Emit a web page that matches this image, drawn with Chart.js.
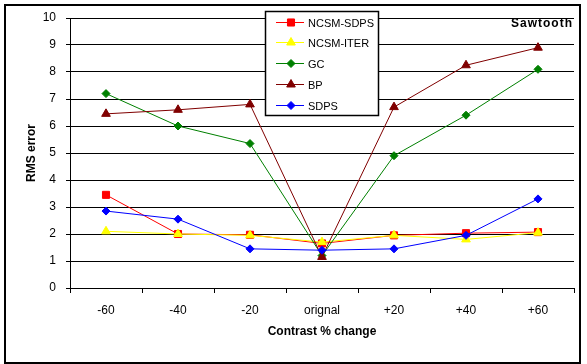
<!DOCTYPE html>
<html>
<head>
<meta charset="utf-8">
<title>Sawtooth RMS error</title>
<script src="https://cdn.jsdelivr.net/npm/chart.js@4.4.0/dist/chart.umd.min.js"></script>
<style>
    html, body { margin: 0; padding: 0; background: #fff; }
    #wrap { width: 587px; height: 364px; }
</style>
</head>
<body>
<div id="wrap"><canvas id="chart" width="587" height="364"></canvas></div>
<script>
// Values
const categories = ['-60', '-40', '-20', 'orignal', '+20', '+40', '+60'];
const ncsmSdps = [3.45, 2.0, 1.97, 1.65, 1.95, 2.03, 2.07];
const ncsmIter = [2.1, 2.0, 1.95, 1.7, 1.95, 1.8, 2.05];
const gc = [7.2, 6.0, 5.35, 1.2, 4.9, 6.4, 8.1];
const bp = [6.45, 6.6, 6.8, 1.15, 6.7, 8.25, 8.9];
const sdps = [2.85, 2.55, 1.45, 1.4, 1.45, 1.95, 3.3];
const yTicks = [0, 1, 2, 3, 4, 5, 6, 7, 8, 9, 10];

const FONT = "'Liberation Sans', Arial, sans-serif";

const seriesDefs = [
    { label: 'NCSM-SDPS', data: ncsmSdps, color: '#ff0000', style: 'rect', radius: 5 },
    { label: 'NCSM-ITER', data: ncsmIter, color: '#ffff00', style: 'triangle', radius: 5 },
    { label: 'GC', data: gc, color: '#008000', style: 'rectRot', radius: 4 },
    { label: 'BP', data: bp, color: '#800000', style: 'triangle', radius: 5 },
    { label: 'SDPS', data: sdps, color: '#0000ff', style: 'rectRot', radius: 4 }
];

const datasets = seriesDefs.map((s, i) => ({
    label: s.label,
    data: s.data,
    borderColor: s.color,
    backgroundColor: s.color,
    borderWidth: 1,
    pointStyle: s.style,
    pointRadius: s.radius,
    pointBorderWidth: 1,
    pointBackgroundColor: s.color,
    pointBorderColor: s.color,
    tension: 0,
    order: seriesDefs.length - 1 - i // later series on top, like the original
}));

// White background + outer frame
const framePlugin = {
    id: 'frame',
    beforeDraw(chart) {
        const ctx = chart.ctx;
        ctx.save();
        ctx.fillStyle = '#fff';
        ctx.fillRect(0, 0, chart.width, chart.height);
        ctx.restore();
    },
    afterDraw(chart) {
        const ctx = chart.ctx;
        ctx.save();
        ctx.strokeStyle = '#000';
        ctx.lineWidth = 2;
        ctx.strokeRect(5, 5, 575, 358);
        ctx.restore();
    }
};

// Boxed legend inside the plot, plus the "Sawtooth" caption
const boxLegendPlugin = {
    id: 'boxLegend',
    afterDatasetsDraw(chart) {
        const ctx = chart.ctx;
        ctx.save();
        ctx.fillStyle = '#fff';
        ctx.fillRect(265, 11, 114, 104);
        ctx.strokeStyle = '#000';
        ctx.lineWidth = 1.5;
        ctx.strokeRect(265.5, 11.5, 113, 104);

        ctx.font = '11px ' + FONT;
        ctx.textBaseline = 'middle';
        ctx.textAlign = 'left';
        seriesDefs.forEach((s, i) => {
            const y = Math.round(21.5 + i * 20.9) + 0.5;
            ctx.strokeStyle = s.color;
            ctx.lineWidth = 1;
            ctx.beginPath();
            ctx.moveTo(276, y);
            ctx.lineTo(304, y);
            ctx.stroke();
            const opts = { pointStyle: s.style, radius: s.radius, borderWidth: 1, rotation: 0 };
            ctx.fillStyle = s.color;
            ctx.strokeStyle = s.color;
            if (Chart.helpers && Chart.helpers.drawPoint) {
                Chart.helpers.drawPoint(ctx, opts, 291, y);
            } else {
                ctx.fillRect(287, y - 3.5, 7, 7);
            }
            ctx.fillStyle = '#000';
            ctx.fillText(s.label, 308, y + 1);
        });

        ctx.font = 'bold 12px ' + FONT;
        ctx.textAlign = 'right';
        ctx.textBaseline = 'alphabetic';
        ctx.fillStyle = '#000';
        if ('letterSpacing' in ctx) ctx.letterSpacing = '1px';
        ctx.fillText('Sawtooth', 573, 27);
        ctx.restore();
    }
};

new Chart(document.getElementById('chart'), {
    type: 'line',
    data: { labels: categories, datasets: datasets },
    options: {
        responsive: false,
        animation: false,
        devicePixelRatio: 1,
        layout: { padding: { top: 18, right: 13, bottom: 0, left: 0 } },
        plugins: {
            legend: { display: false },
            tooltip: { enabled: false }
        },
        scales: {
            x: {
                type: 'category',
                offset: true,
                afterFit: (scale) => { scale.height = 76; },
                grid: {
                    offset: true,
                    drawOnChartArea: false,
                    drawTicks: true,
                    tickLength: 5,
                    color: '#000',
                    lineWidth: 1
                },
                border: { display: true, color: '#000', width: 1 },
                ticks: {
                    color: '#000',
                    font: { family: FONT, size: 12 },
                    padding: 10,
                    maxRotation: 0,
                    autoSkip: false
                },
                title: {
                    display: true,
                    text: 'Contrast % change',
                    color: '#000',
                    font: { family: FONT, size: 12, weight: 'bold' },
                    padding: { top: 0, bottom: 25 }
                }
            },
            y: {
                min: 0,
                max: 10,
                afterFit: (scale) => { scale.width = 70; },
                afterBuildTicks: (scale) => { scale.ticks = yTicks.map(v => ({ value: v })); },
                grid: {
                    color: '#000',
                    lineWidth: 1,
                    drawTicks: true,
                    tickLength: 4
                },
                border: { display: true, color: '#000', width: 1 },
                ticks: {
                    color: '#000',
                    font: { family: FONT, size: 12 },
                    padding: 10
                },
                title: {
                    display: true,
                    text: 'RMS error',
                    color: '#000',
                    font: { family: FONT, size: 12, weight: 'bold' },
                    padding: { top: 24, bottom: 0 }
                }
            }
        }
    },
    plugins: [framePlugin, boxLegendPlugin]
});
</script>
</body>
</html>
